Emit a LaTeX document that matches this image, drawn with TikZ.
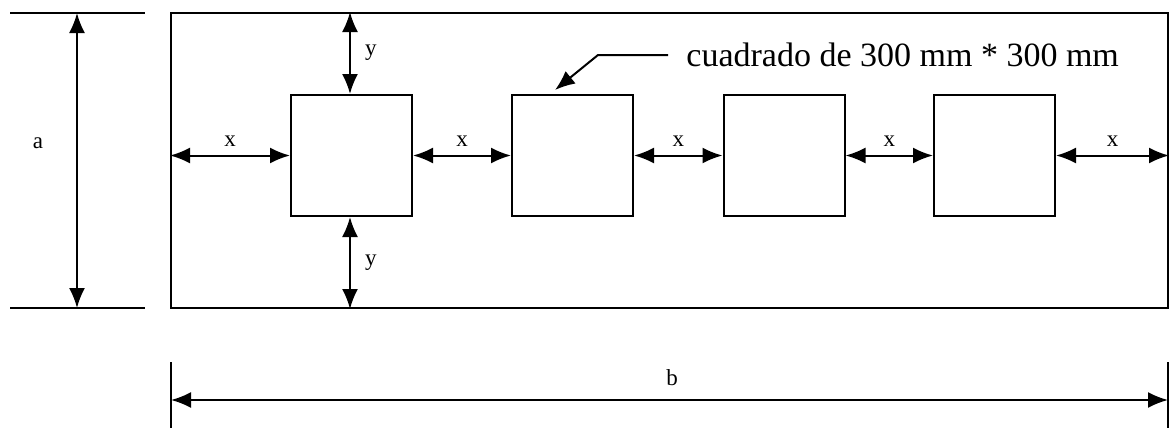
\documentclass[tikz,border=0pt]{standalone}
\usepackage{fontspec}
\setmainfont{Liberation Serif}
\usetikzlibrary{arrows.meta,calc}
\tikzset{
  dimarrow/.style={line width=1pt, {Latex[length=10pt,width=8pt]}-{Latex[length=10pt,width=8pt]}},
  sqbox/.style={draw, line width=1pt, minimum size=60.5pt, inner sep=0pt},
  dimlbl/.style={font=\fontsize{11.5}{13}\selectfont, inner sep=1pt}
}

\begin{document}
\begin{tikzpicture}[x=0.5pt,y=-0.5pt]
\useasboundingbox (0,0) rectangle (1173,428);
% plate and squares
\node[draw, line width=1pt, minimum width=498.5pt, minimum height=147.5pt, inner sep=0pt] (plate) at (669.5,160.5) {};
\node[sqbox] (sqA) at (351.5,155.5) {};
\node[sqbox] (sqB) at (572.5,155.5) {};
\node[sqbox] (sqC) at (784,155.5) {};
\node[sqbox] (sqD) at (994.5,155.5) {};
% x spacings
\draw[dimarrow] (plate.west |- sqA.west) -- node[dimlbl, above=3pt] {x} (sqA.west);
\draw[dimarrow] (sqA.east) -- node[dimlbl, above=3pt] {x} (sqB.west);
\draw[dimarrow] (sqB.east) -- node[dimlbl, above=3pt] {x} (sqC.west);
\draw[dimarrow] (sqC.east) -- node[dimlbl, above=3pt] {x} (sqD.west);
\draw[dimarrow] (sqD.east) -- node[dimlbl, above=3pt] {x} (plate.east |- sqD.east);
% y spacings
\draw[dimarrow] (sqA.north -| 350,0) -- node[dimlbl, right=6pt] {y} (plate.north -| 350,0);
\draw[dimarrow] (sqA.south -| 350,0) -- node[dimlbl, right=6pt] {y} (plate.south -| 350,0);
% dimension a
\draw[line width=1pt] (10,13) -- (145,13);
\draw[line width=1pt] (10,308) -- (145,308);
\coordinate (aTop) at (77,13);
\coordinate (aBot) at (77,308);
\draw[dimarrow] (aTop) -- (aBot);
\node[dimlbl] (lblA) at (38,143) {a};
% dimension b
\draw[line width=0.7pt] (171,362) -- (171,428);
\draw[line width=0.7pt] (1168,362) -- (1168,428);
\coordinate (bL) at (171,400);
\coordinate (bR) at (1168,400);
\draw[dimarrow] (bL) -- (bR);
\node[dimlbl] (lblB) at (672,378) {b};
% callout
\node[anchor=west, inner xsep=9pt, inner ysep=2pt, font=\fontsize{17}{20}\selectfont] (note) at (668,55) {cuadrado de 300 mm * 300 mm};
\coordinate (bend) at (598,55);
\coordinate (tip) at (555,90);
\draw[line width=1pt, -{Latex[length=10pt,width=8pt]}] (note.west) -- (bend) -- (tip);
\end{tikzpicture}
\end{document}
